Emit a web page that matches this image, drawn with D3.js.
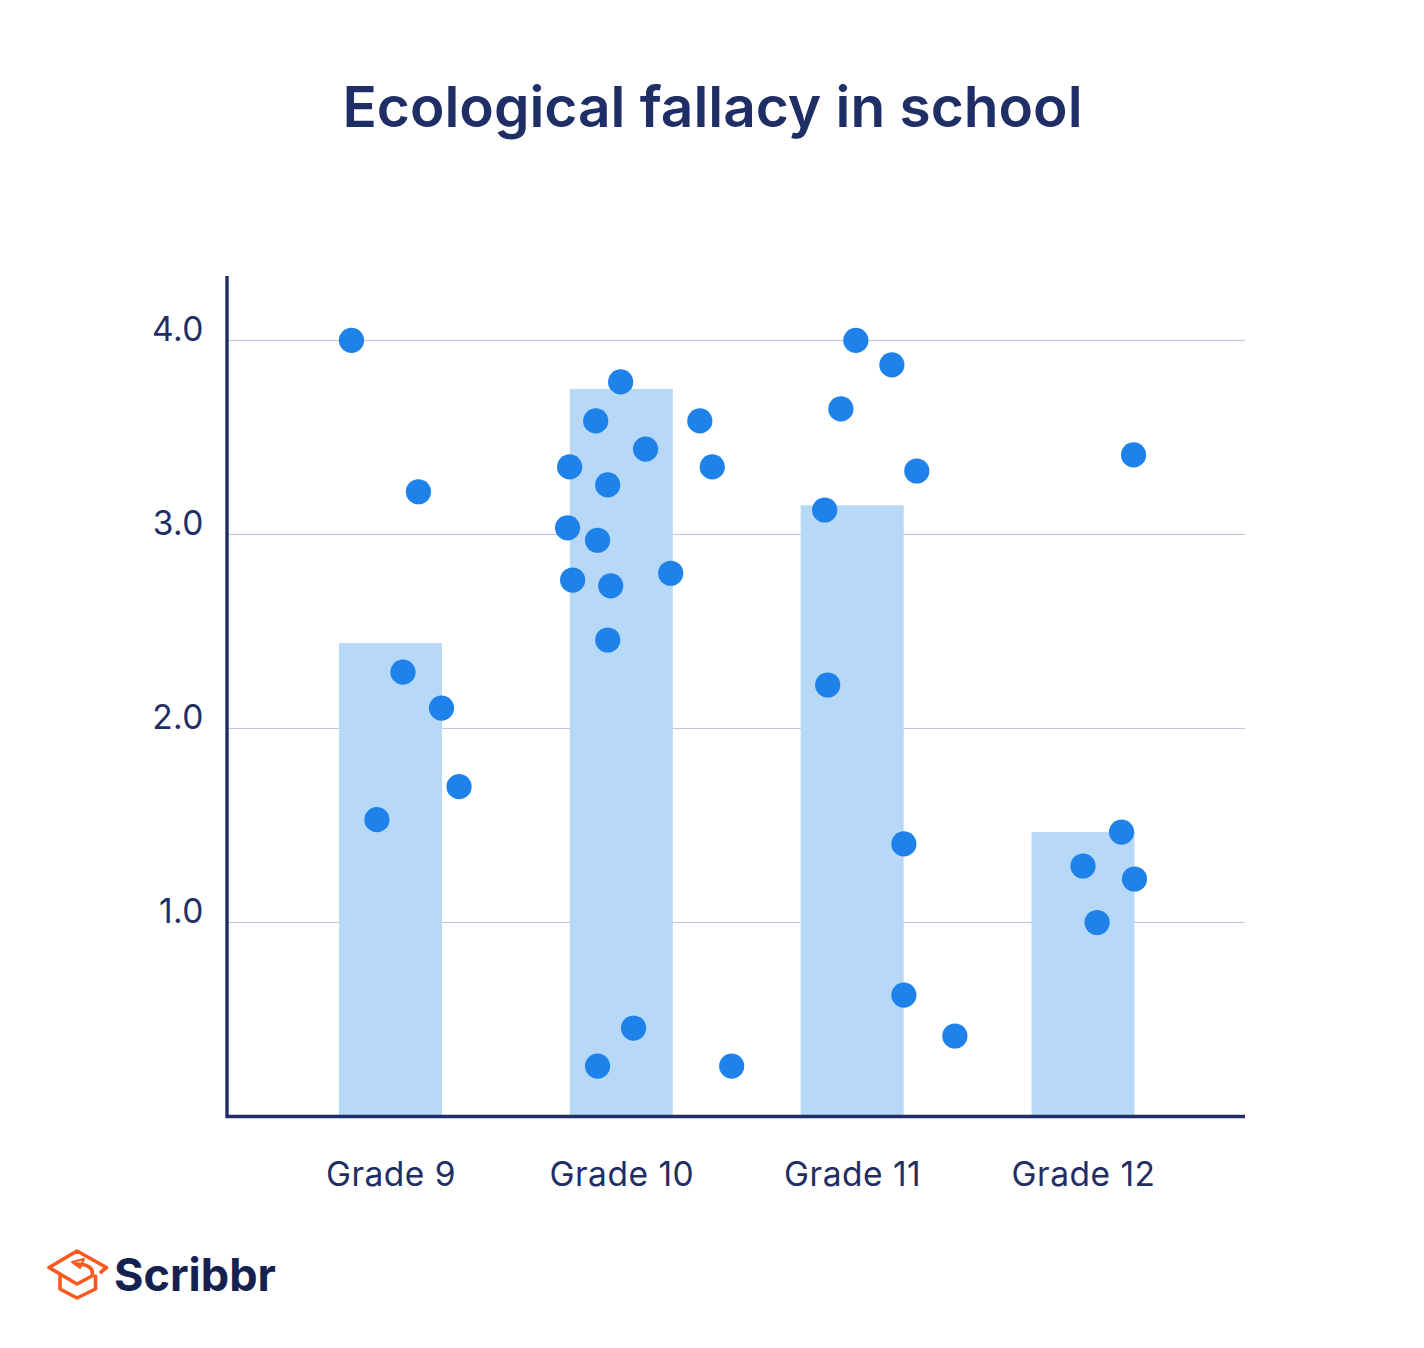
<!DOCTYPE html>
<html lang="en">
<head>
    <meta charset="UTF-8">
    <title>Ecological fallacy in school</title>
    <script src="https://d3js.org/d3.v7.min.js"></script>
    <style>
        html, body {
            margin: 0;
            background: #fff;
        }
        svg {
            display: block;
        }
        svg text {
            font-family: Inter, sans-serif;
        }
        .tick text {
            fill: #1f2f66;
            font-size: 33.5px;
            letter-spacing: 0.5px;
        }
    </style>
</head>
<body>
    <div class="chart"></div>

    <script>
        const title = "Ecological fallacy in school";

        // Bars: class average per grade
        const grades = ["Grade 9", "Grade 10", "Grade 11", "Grade 12"];
        const averages = [2.44, 3.75, 3.15, 1.466];
        const yTicks = [1, 2, 3, 4];

        // Students: horizontal position in grade units (0 = Grade 9), and score
        const studentX = [
            -0.169, 0.121, 0.054, 0.221, 0.297, -0.059,
            0.997, 0.889, 1.340, 1.105, 0.776, 1.394, 0.941, 0.767, 0.897, 0.789, 0.954, 1.214, 0.941, 1.053, 0.897, 1.478,
            2.016, 2.172, 1.951, 2.280, 1.881, 1.894, 2.224, 2.224, 2.445,
            3.219, 3.167, 3.000, 3.223, 3.061
        ];
        const studentY = [
            4.00, 3.22, 2.29, 2.105, 1.70, 1.53,
            3.786, 3.585, 3.585, 3.44, 3.348, 3.348, 3.255, 3.034, 2.97, 2.765, 2.735, 2.80, 2.456, 0.456, 0.26, 0.26,
            4.00, 3.874, 3.647, 3.327, 3.126, 2.224, 1.405, 0.626, 0.415,
            3.41, 1.466, 1.291, 1.224, 1.00
        ];

        const width = 1424, height = 1348;
        const navy = "#1f2f66";

        const svg = d3.select(".chart")
            .append("svg")
            .attr("width", width)
            .attr("height", height);

        // Pixel extents of the plot
        const left = 227, right = 1245, top_ = 276, bottom = 1116.5;
        const barWidth = 103;

        const x = d3.scaleLinear().domain([0, 3]).range([390.5, 1083]);
        const y = d3.scaleLinear().domain([0, 4.332]).range([bottom, top_]);

        svg.append("text")
            .attr("x", 712.5)
            .attr("y", 127)
            .attr("text-anchor", "middle")
            .attr("fill", navy)
            .attr("font-size", 56.8)
            .attr("font-weight", 600)
            .text(title);

        // Grid lines
        svg.append("g")
            .selectAll("line")
            .data(yTicks)
            .join("line")
            .attr("x1", left)
            .attr("x2", right)
            .attr("y1", d => y(d))
            .attr("y2", d => y(d))
            .attr("stroke", "#bcc4da")
            .attr("stroke-width", 1);

        // Bars
        svg.append("g")
            .selectAll("rect")
            .data(averages)
            .join("rect")
            .attr("x", (d, i) => x(i) - barWidth / 2)
            .attr("y", d => y(d))
            .attr("width", barWidth)
            .attr("height", d => y(0) - y(d))
            .attr("fill", "#b7d8f7");

        // Axes
        const yAxis = svg.append("g")
            .attr("transform", `translate(${left},0)`)
            .call(d3.axisLeft(y).tickValues(yTicks).tickFormat(d3.format(".1f")).tickSize(0).tickPadding(23));
        yAxis.selectAll("text").attr("dy", "0");

        const xAxis = svg.append("g")
            .attr("transform", `translate(0,${bottom})`)
            .call(d3.axisBottom(x).tickValues(d3.range(grades.length)).tickFormat(i => grades[i]).tickSize(0).tickPadding(45.7));

        xAxis.select(".domain").attr("d", `M${left - 1.5},0H${right}`);
        yAxis.select(".domain").attr("d", `M0,${bottom}V${top_}`);
        svg.selectAll(".domain").attr("stroke", navy).attr("stroke-width", 3.4);

        // Students
        svg.append("g")
            .selectAll("circle")
            .data(studentX)
            .join("circle")
            .attr("cx", d => x(d))
            .attr("cy", (d, i) => y(studentY[i]))
            .attr("r", 12.6)
            .attr("fill", "#1e82ea");

        // Logo
        const logo = svg.append("g")
            .attr("fill", "none")
            .attr("stroke", "#f9591f")
            .attr("stroke-width", 3.6)
            .attr("stroke-linecap", "round")
            .attr("stroke-linejoin", "round");
        logo.append("path").attr("d", "M101,1272L106.5,1267.5L77,1251L49,1267.5L77,1284L92,1276C94,1268 88,1264 76,1264");
        logo.append("path").attr("d", "M60,1276V1289L77,1298L95.5,1289V1276");
        logo.append("path").attr("d", "M72,1262L84,1259L80,1268Z").attr("stroke-width", 2);

        svg.append("text")
            .attr("x", 114)
            .attr("y", 1291)
            .attr("fill", "#15214f")
            .attr("font-size", 45)
            .attr("font-weight", 700)
            .text("Scribbr");
    </script>
</body>
</html>
